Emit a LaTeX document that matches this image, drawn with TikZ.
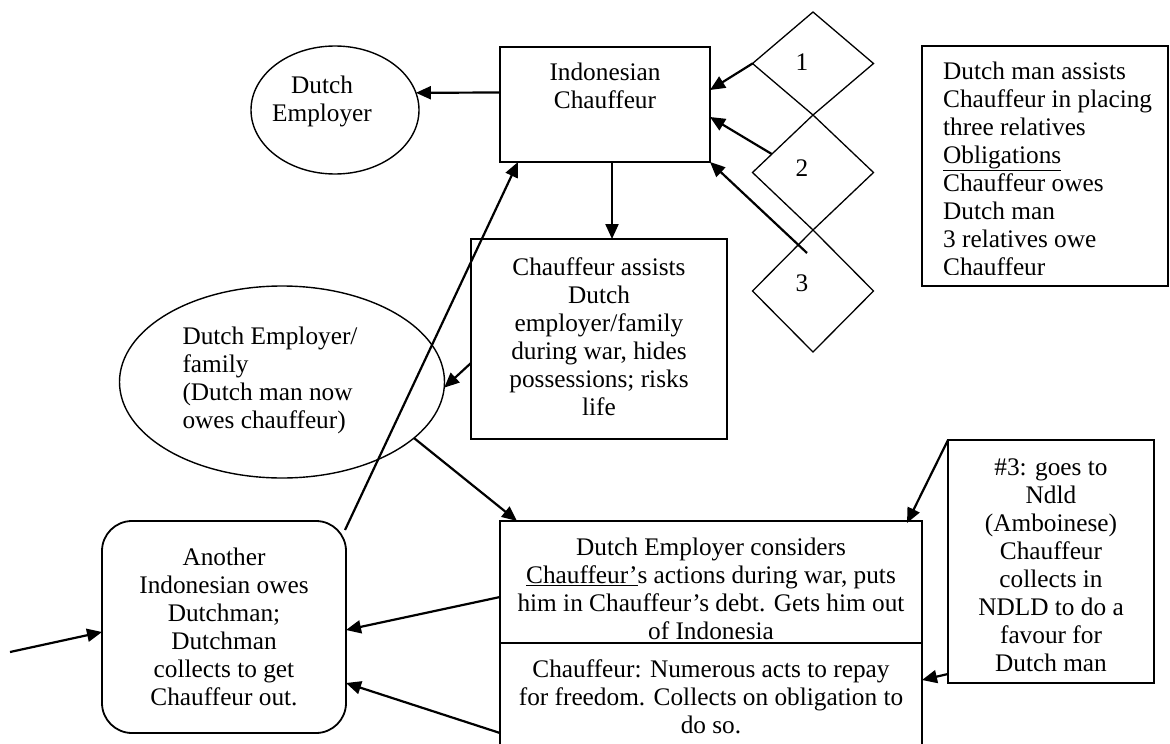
\documentclass[tikz,border=0pt]{standalone}
\usepackage{fontspec}
\setmainfont{Liberation Serif}
\usetikzlibrary{shapes.geometric,arrows.meta,calc}
\newcommand\mainfs{\fontsize{25.3}{28}\selectfont}
\tikzset{
  boxshape/.style={draw, line width=1.8pt, inner sep=0pt, outer sep=0pt},
  ovalshape/.style={draw, ellipse, line width=1.4pt, inner sep=0pt, outer sep=0pt},
  gem/.style={draw, diamond, line width=1.3pt, inner sep=0pt, outer sep=0pt, minimum width=121pt},
  txt/.style={font=\mainfs, align=center, inner sep=0pt},
  conn/.style={line width=2.2pt, -{Triangle[length=15pt,width=13pt]}},
}
\begin{document}
\begin{tikzpicture}[x=1pt,y=-1pt]
\useasboundingbox (0,0) rectangle (1170,744);
\clip (0,0) rectangle (1170,744);

% --- top row ---
\node[ovalshape, minimum width=168pt, minimum height=128pt] (emp1) at (335,110) {};
\node[txt] (emp1t) at (322,101) {Dutch\\Employer};

\node[boxshape, minimum width=210pt, minimum height=115pt] (ic) at (605,104.5) {};
\node[txt] (ict) at (605,86) {Indonesian\\Chauffeur};

% --- the three numbered relatives ---
\node[gem, minimum height=103pt] (d1) at (813,63.5) {};
\node[gem, minimum height=115pt] (d2) at (813,172.5) {};
\node[gem, minimum height=122pt] (d3) at (813,291) {};
\node[txt] (d1t) at (802,62) {1};
\node[txt] (d2t) at (802,168) {2};
\node[txt] (d3t) at (802,283) {3};

% --- obligations note ---
\node[boxshape, minimum width=246pt, minimum height=240pt] (rb) at (1045,166) {};
\begin{scope}
  \clip (922,46) rectangle (1168,274);
  \node[txt, align=left, anchor=north west] (rbt) at (943,62)
    {Dutch man assists\\Chauffeur in placing\\three relatives\\\underline{Obligations}\\Chauffeur owes\\Dutch man\\3 relatives owe\\Chauffeur};
\end{scope}

% --- wartime ---
\node[boxshape, minimum width=256pt, minimum height=200pt] (ca) at (599,339) {};
\node[txt] (cat) at (599,336.5) {Chauffeur assists\\Dutch\\employer/family\\during war, hides\\possessions; risks\\life};

\node[ovalshape, minimum width=325pt, minimum height=192pt] (emp2) at (282,382) {};
\node[txt, align=left] (emp2t) at (270,380.5) {Dutch Employer/\\family\\(Dutch man now\\owes chauffeur)};

% --- lower boxes ---
\node[boxshape, minimum width=422pt, minimum height=122pt] (dc) at (711,582) {};
\node[txt] (dct) at (711,588.5) {Dutch Employer considers\\\underline{Chauffeur’}s actions during war, puts\\him in Chauffeur’s debt. Gets him out\\of Indonesia};

\node[boxshape, minimum width=422pt, minimum height=147pt] (cf) at (711,716.5) {};
\node[txt] (cft) at (711,696.5) {Chauffeur: Numerous acts to repay\\for freedom. Collects on obligation to\\do so.};

\node[boxshape, minimum width=206pt, minimum height=243pt] (n3) at (1051,561.5) {};
\node[txt] (n3t) at (1051,565) {\#3: goes to\\Ndld\\(Amboinese)\\Chauffeur\\collects in\\NDLD to do a\\favour for\\Dutch man};

\node[boxshape, rounded corners=30pt, minimum width=244pt, minimum height=212pt] (ai) at (224,627) {};
\node[txt] (ait) at (224,627) {Another\\Indonesian owes\\Dutchman;\\Dutchman\\collects to get\\Chauffeur out.};

\coordinate (src) at (10,652);

% --- connectors ---
\draw[conn] ([yshift=12pt]ic.west) -- (emp1.12);
\draw[conn] ([xshift=7pt]ic.south) -- ([xshift=7pt]ic.south |- ca.north);
\draw[conn] (d1.west) -- ([yshift=14.5pt]ic.east);
\draw[conn] ($(d2.west)!0.32!(d2.north)$) -- ([yshift=-12.5pt]ic.east);
\draw[conn] ($(d3.north)+(-6,23)$) -- (ic.south east);
\draw[conn] ([yshift=-24pt]ca.west) -- (emp2.-2);
\draw[conn] (emp2.-23) -- ([xshift=17pt]dc.north west);
\draw[conn] ([xshift=-1pt,yshift=-9pt]ai.north east) -- ([xshift=18pt]ic.south west);
\draw[conn] (n3.north west) -- ([xshift=-15pt,yshift=-2pt]dc.north east);
\draw[conn] ([yshift=9pt]n3.south west) -- ([yshift=-37pt]cf.north east);
\draw[conn] ([yshift=-15pt]dc.west) -- ([yshift=-3pt]ai.east);
\draw[conn] ([yshift=-90pt]cf.north west) -- ([yshift=-56pt]ai.east);
\draw[conn] (src) -- ([yshift=-5pt]ai.west);
\end{tikzpicture}
\end{document}
